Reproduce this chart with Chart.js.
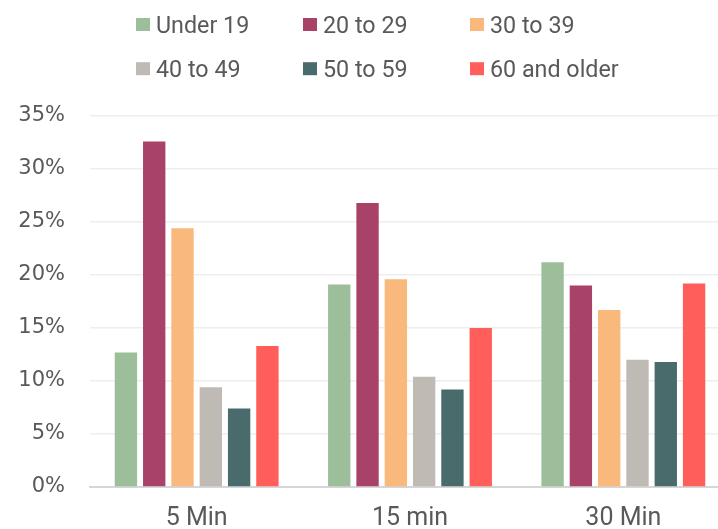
<!DOCTYPE html>
<html><head><meta charset="utf-8">
<script src="https://cdn.jsdelivr.net/npm/chart.js@4/dist/chart.umd.min.js"></script>
<style>html,body{margin:0;padding:0;overflow:hidden;background:#fff}#wrap{width:730px;height:529px}</style>
</head><body><div id="wrap"><canvas id="c" width="730" height="529"></canvas></div>
<script>
const categories = ['5 Min', '15 min', '30 Min'];
const seriesNames = ['Under 19', '20 to 29', '30 to 39', '40 to 49', '50 to 59', '60 and older'];
const under19 = [12.7, 19.1, 21.2];
const age20to29 = [32.6, 26.8, 19.0];
const age30to39 = [24.4, 19.6, 16.7];
const age40to49 = [9.4, 10.4, 12.0];
const age50to59 = [7.4, 9.2, 11.8];
const age60plus = [13.3, 15.0, 19.2];
const yTickValues = [0, 5, 10, 15, 20, 25, 30, 35];

const seriesValues = [under19, age20to29, age30to39, age40to49, age50to59, age60plus];
const colors = ['#9DBE9A', '#A84268', '#F9B87C', '#BFBAB4', '#4A6B6C', '#FF5E5B'];

const gridLegend = {
  id: 'gridLegend',
  afterDraw(chart) {
    const ctx = chart.ctx;
    const cols = [136, 303, 470], rows = [24.5, 68.7], baselines = [32.5, 77];
    chart.data.datasets.forEach((ds, i) => {
      const x = cols[i % 3], r = Math.floor(i / 3), y = rows[r];
      ctx.save();
      ctx.fillStyle = ds.backgroundColor;
      ctx.fillRect(x, y - 6.5, 14, 13);
      ctx.translate(x + 20, baselines[r]);
      ctx.scale(0.97, 1);
      ctx.font = '24px Roboto, sans-serif';
      ctx.textBaseline = 'alphabetic';
      ctx.textAlign = 'left';
      ctx.fillStyle = '#595959';
      ctx.fillText(ds.label, 0, 0);
      ctx.restore();
    });
  }
};

new Chart(document.getElementById('c'), {
  type: 'bar',
  data: {
    labels: categories,
    datasets: seriesNames.map((n, i) => ({
      label: n,
      data: seriesValues[i],
      backgroundColor: colors[i],
      borderWidth: 0,
      categoryPercentage: 0.796,
      barPercentage: 0.79
    }))
  },
  options: {
    responsive: false,
    animation: false,
    devicePixelRatio: 1,
    layout: { padding: { top: 116, left: 0, right: 0, bottom: 0 } },
    plugins: { legend: { display: false }, tooltip: { enabled: false } },
    scales: {
      x: {
        grid: { display: false, drawTicks: false },
        border: { display: true, color: '#d6d6d6', width: 2 },
        ticks: { color: '#595959', font: { family: 'Roboto', size: 25 }, padding: 17 },
        afterFit(s) { s.height = 42; }
      },
      y: {
        min: 0, max: 35,
        afterBuildTicks(s) { s.ticks = yTickValues.map(v => ({ value: v })); },
        grid: { color: '#eeeeee', lineWidth: 1.5, drawTicks: false },
        border: { display: false },
        ticks: {
          color: '#595959', padding: 25,
          font: { family: 'DejaVu Sans', size: 21 },
          callback: v => v + '%'
        },
        afterFit(s) { s.width = 90; }
      }
    }
  },
  plugins: [gridLegend]
});
</script></body></html>
